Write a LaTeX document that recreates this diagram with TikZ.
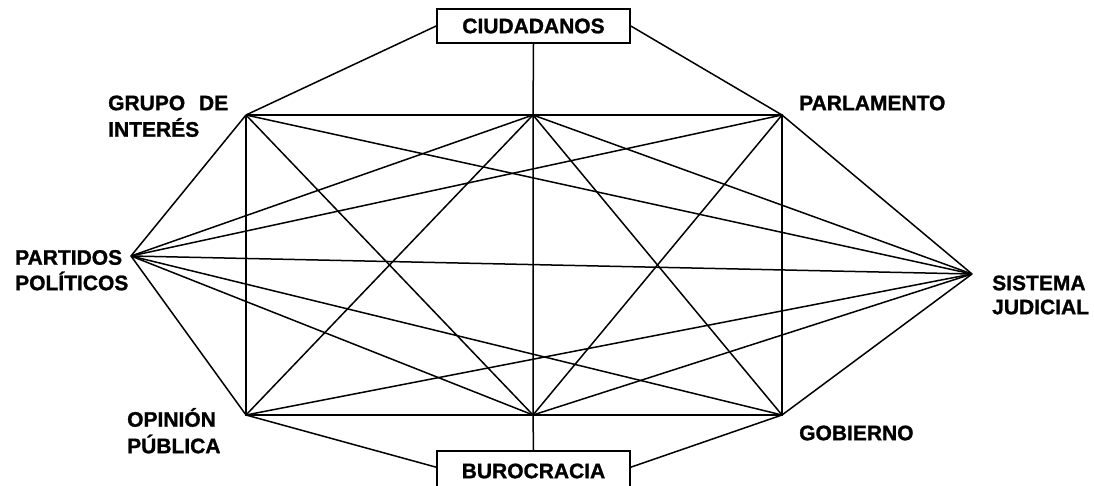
\documentclass[tikz,border=0pt]{standalone}
\usepackage{fontspec}
\setmainfont{Liberation Sans}[BoldFeatures={FakeBold=1.2}]
\begin{document}
\begin{tikzpicture}[x=1pt,y=-1pt,
  link/.style={line width=1.5pt},
  lbl/.style={inner sep=0pt,anchor=west,font=\fontsize{21}{24}\selectfont\bfseries},
  boxnode/.style={draw,line width=1.6pt,minimum width=193pt,inner sep=0pt,fill=white,font=\fontsize{21}{24}\selectfont\bfseries}]
\useasboundingbox (0,0) rectangle (1094,486);
\fill[white] (0,0) rectangle (1094,486);
\begin{scope}
\clip (0,0) rectangle (1094,486);
% vertices
\coordinate (GI) at (246,115);
\coordinate (TM) at (533,115);
\coordinate (PA) at (782,115);
\coordinate (PP) at (131,256);
\coordinate (SJ) at (972,274);
\coordinate (OP) at (246,415);
\coordinate (BM) at (533,415);
\coordinate (GO) at (782,415);
% boxes
\node[boxnode,minimum height=34pt] (ciud) at (533.5,26) {CIUDADANOS};
\node[boxnode,minimum height=40pt] (buro) at (533.5,471) {BUROCRACIA};
\coordinate (buroW) at ([yshift=-17pt]buro.north west);
\coordinate (buroE) at ([yshift=-17pt]buro.north east);
% frame
\draw[link] (GI) -- (TM) -- (PA) -- (GO) -- (BM) -- (OP) -- (GI);
\draw[link] (ciud.south) -- (TM) -- (BM) -- (buro.north);
\draw[link] (ciud.west) -- (GI);
\draw[link] (ciud.east) -- (PA);
\draw[link] (buroW) -- (OP);
\draw[link] (buroE) -- (GO);
% partidos politicos
\foreach \t in {GI,TM,PA,SJ,GO,BM,OP} \draw[link] (PP) -- (\t);
% sistema judicial
\foreach \t in {PA,TM,GI,OP,BM,GO} \draw[link] (SJ) -- (\t);
% inner crosses
\draw[link] (TM) -- (OP);
\draw[link] (TM) -- (GO);
\draw[link] (BM) -- (GI);
\draw[link] (BM) -- (PA);
\end{scope}
% labels
\node[lbl] (grupo1) at (108,103) {GRUPO\hspace{8pt} DE};
\node[lbl] (grupo2) at (108,127.5) {INTERÉS};
\node[lbl] (parl) at (799,103) {PARLAMENTO};
\node[lbl] (part1) at (15,257.5) {PARTIDOS};
\node[lbl] (part2) at (15,281) {POLÍTICOS};
\node[lbl] (sist1) at (992,283) {SISTEMA};
\node[lbl] (sist2) at (992,307) {JUDICIAL};
\node[lbl] (opin1) at (127,417.5) {OPINIÓN};
\node[lbl] (opin2) at (127,444) {PÚBLICA};
\node[lbl] (gob) at (799,433) {GOBIERNO};
\end{tikzpicture}
\end{document}
